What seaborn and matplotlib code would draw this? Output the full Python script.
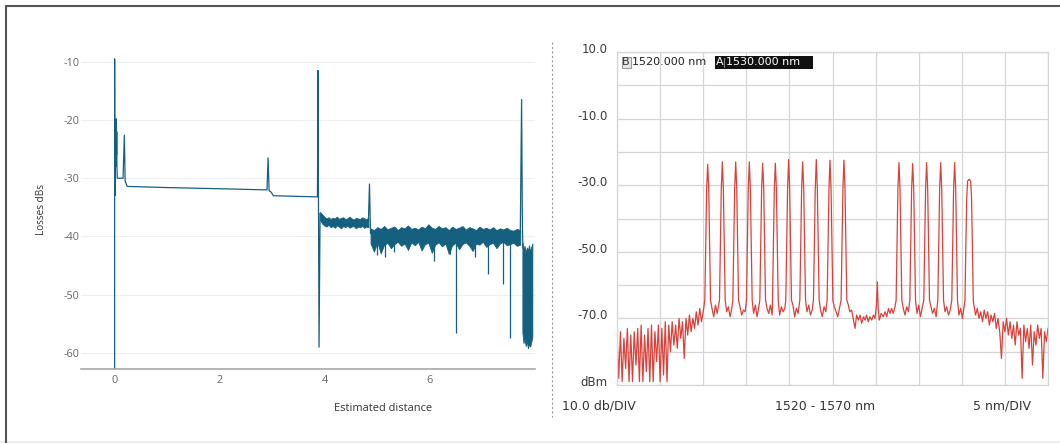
import matplotlib
matplotlib.use('Agg')

import matplotlib.pyplot as plt
from matplotlib.lines import Line2D
from matplotlib.patches import Rectangle
from matplotlib.transforms import ScaledTranslation
import numpy as np
import seaborn as sns

W, H = 1060, 443

# ---------------- OTDR trace (left) ----------------
# thin part: launch, first splices, long fibre, connector at ~3.9 km
trace_km = [0, 0, 0.004, 0.008, 0.012, 0.016, 0.02, 0.024, 0.028, 0.032, 0.036, 0.04,
            0.044, 0.05, 0.16, 0.185, 0.2, 0.24, 1.0, 2.0, 2.90, 2.92, 2.94, 2.98, 3.02,
            3.86, 3.87, 3.89, 3.91]
trace_db = [-62.8, -9.5, -33, -21, -27, -20, -28, -21.5, -27.5, -19.8, -26, -22,
            -28, -30, -30, -22.6, -30.5, -31.4, -31.6, -31.8, -32.0, -26.5, -32.1, -32.4, -33.0,
            -33.2, -11.5, -59.0, -36.0]

# reflective events
conn_km = [4.83, 4.85, 4.87]
conn_db = [-37.3, -31.0, -39.5]
end_km = [7.72, 7.745, 7.76, 7.77]
end_db = [-39.5, -16.5, -38.0, -42.0]

# noisy sections (upper / lower edge of the trace)
band1_hi = [-35.8, -36.2, -36.6, -36.9, -36.7, -37.0, -36.8, -36.9, -36.6, -37.0, -36.8, -36.7,
            -37.0, -36.9, -36.6, -36.9, -37.1, -36.8, -36.9, -37.0, -36.7, -36.9, -37.0, -36.8]
band1_lo = [-37.2, -37.8, -38.1, -38.3, -38.0, -38.4, -38.2, -38.5, -38.1, -38.3, -38.6, -38.2,
            -38.4, -38.1, -38.5, -38.3, -38.2, -38.6, -38.3, -38.4, -38.2, -38.5, -38.3, -38.4]
band2_hi = [-38.6, -38.9, -38.4, -38.7, -38.2, -38.8, -38.5, -38.3, -38.9, -38.4,
            -38.6, -38.1, -38.7, -38.5, -38.8, -38.3, -38.6, -37.9, -38.5, -38.7,
            -38.2, -38.6, -38.4, -38.9, -38.3, -38.7, -38.5, -38.2, -38.8, -38.4,
            -38.6, -38.9, -38.3, -38.7, -38.5, -38.8, -38.4, -38.9, -38.6, -38.8,
            -38.5, -38.9, -39.0, -38.7, -38.9]
band2_lo = [-41.2, -42.6, -41.0, -42.9, -41.4, -41.1, -42.0, -41.3, -40.9, -41.6,
            -41.2, -42.3, -41.0, -41.5, -40.9, -42.4, -41.3, -41.1, -42.8, -41.4,
            -41.0, -41.7, -41.2, -43.0, -41.5, -41.1, -42.2, -41.3, -41.0, -41.6,
            -42.5, -41.2, -41.4, -40.9, -41.8, -41.3, -41.1, -42.0, -41.2, -40.9,
            -41.5, -41.3, -41.1, -41.6, -41.4]
band3_hi = [-41.0, -42.2, -41.6, -42.8, -41.9, -42.4, -41.5, -42.6, -41.8, -41.2]
band3_lo = [-56.5, -58.3, -57.6, -58.8, -58.0, -59.2, -58.4, -58.9, -58.1, -57.2]

# downward spikes in the noisy section
dip_km = [5.0, 5.15, 5.32, 6.07, 6.39, 6.50, 6.85, 7.10, 7.39, 7.52]
dip_db = [-43.2, -43.5, -42.6, -44.2, -43.0, -56.5, -43.5, -46.4, -48.1, -57.4]

# ---------------- OSA spectrum (right) ----------------
regA_dbm = [-75, -88, -74, -89, -76, -85, -73, -89, -75, -89,
            -74, -84, -73, -89, -72, -89, -75, -86, -73, -89,
            -72, -89, -74, -83, -72, -89, -73, -87, -71, -89,
            -72, -80, -71, -78, -72, -79, -70, -76, -71, -82,
            -70, -75, -69, -74, -70, -73, -68, -72, -67, -71, -68]
regB_dbm = [-66, -69, -67, -70, -68, -71, -67.5, -70, -68, -72,
            -69, -71, -68.5, -73, -70, -74, -82, -71, -74, -70,
            -75, -71, -76, -72, -78, -71, -75, -73, -88, -72,
            -77, -73, -79, -72, -84, -74, -78, -72, -76, -73,
            -88, -74, -77, -73]

chan_nm = [1530.52, 1532.22, 1533.77, 1535.35, 1536.90, 1538.37, 1539.91, 1541.54,
           1543.12, 1544.71, 1546.33, 1552.71, 1554.30, 1555.92, 1557.55, 1559.17]
chan_dbm = [-23.7, -23.0, -23.0, -23.0, -23.4, -23.4, -22.3, -23.0,
            -22.3, -22.5, -22.5, -23.2, -23.5, -23.2, -23.2, -23.2]
# filter shape of one channel: offset in nm and level on the flanks
shape_dx = [-0.33, -0.22, -0.12, 0.12, 0.22, 0.33]
shape_db = [-64.5, -47.0, -31.0, -31.0, -47.0, -64.5]

# floor between neighbouring channels
gap_dx = [0.5, 0.7, 0.9, 1.1]
gap_dbm = [[-67.0, -69.5, -66.0, -68.5], [-68.0, -66.5, -69.5, -67.0],
           [-66.5, -69.0, -67.5, -68.0], [-68.5, -66.0, -69.5, -66.5],
           [-67.0, -68.5, -66.0, -69.0], [-69.0, -66.5, -68.0, -67.0],
           [-66.0, -69.5, -67.0, -68.5], [-68.0, -66.0, -69.0, -67.5],
           [-67.5, -69.5, -66.5, -68.0], [-66.5, -68.0, -69.5, -67.0],
           [-67.0, -69.0, -66.5, -68.0], [-68.5, -66.0, -69.5, -67.0],
           [-66.5, -68.5, -67.0, -69.5], [-68.0, -66.5, -69.0, -67.5],
           [-69.0, -67.0, -70.0, -66.5]]

long_nm = [1546.84, 1547.0, 1547.22, 1547.4, 1547.61, 1547.8, 1548.0, 1548.2, 1548.38, 1548.6,
           1548.77, 1548.95, 1549.15, 1549.35, 1549.55, 1549.75, 1549.93, 1550.1, 1550.2, 1550.3,
           1550.43, 1550.65, 1550.9, 1551.1, 1551.29, 1551.5, 1551.67, 1551.85, 1552.05, 1552.25]
long_dbm = [-66, -68, -67.5, -70, -73, -69, -70.5, -69, -71.5, -69.5,
            -70.5, -69, -71, -69.5, -70.5, -69, -70, -66, -59, -67,
            -70.5, -68.5, -69.5, -68, -69.5, -67, -68.5, -67, -68.5, -66.5]

broad_nm = [1560.37, 1560.47, 1560.57, 1560.67, 1560.85, 1561.03, 1561.13, 1561.23, 1561.33]
broad_dbm = [-64.5, -48, -34, -28.8, -28.2, -28.8, -34, -48, -64.5]

# ---- build the spectrum trace ----
pts = list(zip(np.arange(1520.0, 1530.01, 0.2), regA_dbm))
gi = 0
for i, (c, p) in enumerate(zip(chan_nm, chan_dbm)):
    pts += [(c + dx, v) for dx, v in zip(shape_dx, shape_db)]
    pts.append((c, p))
    if i != 10:
        pts += [(c + dx, v) for dx, v in zip(gap_dx, gap_dbm[gi])]
        gi += 1
pts += list(zip(long_nm, long_dbm))
pts += list(zip(broad_nm, broad_dbm))
pts += list(zip(np.arange(1561.4, 1570.01, 0.2), regB_dbm))
pts.sort()
spec_nm = [p[0] for p in pts]
spec_dbm = [p[1] for p in pts]

# ---------------- figure ----------------
sns.set_theme(style='white')
plt.rcParams['font.family'] = ['DejaVu Sans']
plt.rcParams['axes.unicode_minus'] = False

TEAL = '#15607f'
RED = '#d8423c'

fig = plt.figure(figsize=(W / 100, H / 100), dpi=100)


def fx(px):
    return px / W


def fy(py):
    return 1 - py / H


# ---- left: OTDR ----
ax1 = fig.add_axes([fx(81), fy(369.3), fx(535) - fx(81), fy(50.1) - fy(369.3)])
ax1.fill_between(np.linspace(3.91, 4.83, 24), band1_lo, band1_hi, color=TEAL, lw=0.6)
ax1.fill_between(np.linspace(4.87, 7.72, 45), band2_lo, band2_hi, color=TEAL, lw=0.6)
ax1.fill_between(np.linspace(7.76, 7.95, 10), band3_lo, band3_hi, color=TEAL, lw=0.6)
ax1.vlines(dip_km, -40.8, dip_db, color=TEAL, lw=0.9)
for xs, ys in [(trace_km, trace_db), (conn_km, conn_db), (end_km, end_db)]:
    sns.lineplot(x=xs, y=ys, ax=ax1, estimator=None, sort=False, color=TEAL, lw=0.9)

ax1.set_xlim(-0.64, 8.0)
ax1.set_ylim(-62.8, -8)
ax1.set_xticks([0, 2, 4, 6])
ax1.set_yticks([-10, -20, -30, -40, -50, -60])
ax1.grid(axis='y', color='#efefef', lw=0.8)
ax1.set_axisbelow(True)
for s in ['top', 'right', 'left']:
    ax1.spines[s].set_visible(False)
ax1.spines['bottom'].set_color('#a8a8a8')
ax1.spines['bottom'].set_linewidth(1.2)
ax1.tick_params(axis='y', length=0, pad=1, labelsize=7.8, labelcolor='#666666')
ax1.tick_params(axis='x', length=0, pad=4, labelsize=7.8, labelcolor='#666666')
for lab in ax1.get_xticklabels() + ax1.get_yticklabels():
    lab.set_family('Open Sans')
ax1.set_xlabel('Estimated distance', fontsize=7.9, color='#333333', family='Open Sans')
ax1.set_ylabel('Losses dBs', fontsize=7.2, color='#333333', family='Open Sans')
ax1.xaxis.set_label_coords(0.665, -0.106)
ax1.yaxis.set_label_coords(-0.074, 0.5)

# ---- right: spectrum ----
ax2 = fig.add_axes([fx(617), fy(385), fx(1048) - fx(617), fy(52) - fy(385)])
sns.lineplot(x=spec_nm, y=spec_dbm, ax=ax2, estimator=None, sort=False, color=RED, lw=0.9)
ax2.set_xlim(1520, 1570)
ax2.set_ylim(-90, 10)
ax2.set_xticks(np.arange(1520, 1571, 5))
ax2.set_xticklabels([])
ax2.set_yticks(np.arange(10, -91, -10))
ax2.set_yticklabels(['10.0', '', '-10.0', '', '-30.0', '', '-50.0', '', '-70.0', '', 'dBm'])
ax2.grid(True, color='#d6d6d6', lw=0.9)
ax2.set_axisbelow(True)
for s in ax2.spines.values():
    s.set_color('#d6d6d6')
    s.set_linewidth(0.9)
ax2.tick_params(length=0, pad=7, labelsize=8.5, labelcolor='#3a3a3a')
shift = ScaledTranslation(0, 4 / 100, fig.dpi_scale_trans)
for lab in ax2.get_yticklabels():
    lab.set_transform(lab.get_transform() + shift)

fig.text(fx(562), fy(406), '10.0 db/DIV', ha='left', va='center', fontsize=9, color='#333333')
fig.text(fx(825), fy(406), '1520 - 1570 nm', ha='center', va='center', fontsize=9, color='#333333')
fig.text(fx(1031), fy(406), '5 nm/DIV', ha='right', va='center', fontsize=9, color='#333333')

# marker readouts
fig.add_artist(Rectangle((fx(621.5), fy(67.5)), fx(630.5) - fx(621.5), fy(56.5) - fy(67.5),
                         transform=fig.transFigure, facecolor='#e6e6e6', edgecolor='#999999', lw=0.8))
fig.text(fx(626), fy(62.3), 'B', ha='center', va='center', fontsize=8, color='#333333')
fig.text(fx(632.5), fy(62.3), '1520.000 nm', ha='left', va='center', fontsize=8, color='#222222')
fig.add_artist(Rectangle((fx(715), fy(68.5)), fx(813) - fx(715), fy(55.5) - fy(68.5),
                         transform=fig.transFigure, facecolor='#111111', edgecolor='none'))
fig.text(fx(719.5), fy(62.3), 'A', ha='center', va='center', fontsize=8, color='white')
fig.add_artist(Line2D([fx(724), fx(724)], [fy(57.5), fy(66.5)], transform=fig.transFigure,
                      color='#888888', lw=0.8))
fig.text(fx(726), fy(62.3), '1530.000 nm', ha='left', va='center', fontsize=8, color='white')

# divider and frame
fig.add_artist(Line2D([fx(551.5), fx(551.5)], [fy(42), fy(417)], transform=fig.transFigure,
                      color='#999999', lw=0.8, dashes=(2, 2)))
fig.add_artist(Line2D([fx(6), 1], [fy(6), fy(6)], transform=fig.transFigure, color='#555555', lw=1.5))
fig.add_artist(Line2D([fx(6), fx(6)], [fy(6), 0], transform=fig.transFigure, color='#555555', lw=1.5))
fig.add_artist(Rectangle((0, 0), 1, fy(441), transform=fig.transFigure,
                         facecolor='#efefef', edgecolor='none'))

fig.savefig('out.png', dpi=100)
